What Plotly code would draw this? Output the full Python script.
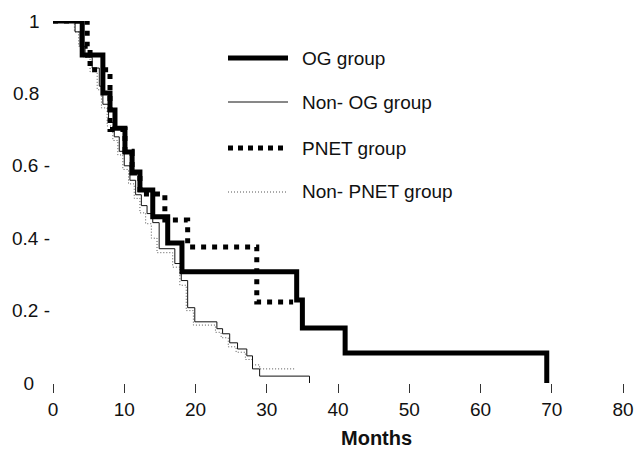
import plotly.graph_objects as go

# ---- data ----
og_t = [0, 4.1, 7.0, 8.0, 8.7, 10.1, 11.1, 12.2, 14.0, 16.1, 18.1, 34.2, 35.0, 41.0, 69.3]
og_s = [1.0, 0.906, 0.801, 0.754, 0.704, 0.638, 0.583, 0.533, 0.459, 0.387, 0.307, 0.229, 0.152, 0.083, 0.0]

nonog_t = [0, 3.1, 3.8, 4.5, 5.5, 6.5, 7.0, 7.8, 8.6, 9.3, 10.0, 10.8, 11.6, 12.4, 13.2,
           14.0, 14.9, 17.1, 18.0, 18.9, 19.9, 23.0, 23.8, 24.8, 25.9, 27.2, 28.0, 29.0, 36.0]
nonog_s = [1.0, 0.97, 0.93, 0.90, 0.87, 0.82, 0.77, 0.72, 0.68, 0.64, 0.60, 0.56, 0.52, 0.49, 0.468,
           0.443, 0.371, 0.33, 0.283, 0.208, 0.169, 0.150, 0.136, 0.111, 0.094, 0.075, 0.039, 0.019, 0.0]

pnet_t = [0, 4.8, 5.2, 8.0, 10.1, 11.1, 12.2, 15.7, 18.9, 28.6, 33.7]
pnet_s = [1.0, 0.93, 0.865, 0.70, 0.64, 0.58, 0.522, 0.45, 0.376, 0.224, 0.224]

nonpnet_t = [0, 3.0, 3.6, 4.3, 5.2, 6.2, 6.8, 7.6, 8.4, 9.1, 9.8, 10.6, 11.4, 12.2, 13.0,
             13.8, 14.6, 16.8, 17.8, 18.7, 19.7, 22.8, 23.6, 24.6, 25.7, 27.0, 28.0, 29.0, 34.0]
nonpnet_s = [1.0, 0.97, 0.93, 0.90, 0.86, 0.81, 0.76, 0.71, 0.67, 0.63, 0.59, 0.55, 0.51, 0.47, 0.44,
             0.40, 0.36, 0.32, 0.27, 0.20, 0.16, 0.14, 0.125, 0.10, 0.085, 0.065, 0.05, 0.039, 0.039]

x_ticks = [0, 10, 20, 30, 40, 50, 60, 70, 80]
y_ticks = [0, 0.2, 0.4, 0.6, 0.8, 1]
y_tick_text = ["0\u00a0\u00a0\u00a0", "0.2 -", "0.4 -", "0.6 -", "0.8\u00a0\u00a0", "1\u00a0\u00a0"]

series_names = ["OG group", "Non- OG group", "PNET group", "Non- PNET group"]

FONT = "Liberation Sans, Arial, sans-serif"

fig = go.Figure()
fig.add_trace(go.Scatter(x=nonpnet_t, y=nonpnet_s, mode="lines", line_shape="hv",
                         line=dict(color="#555555", width=1, dash="1px,2px"),
                         name=series_names[3], cliponaxis=False))
fig.add_trace(go.Scatter(x=nonog_t, y=nonog_s, mode="lines", line_shape="hv",
                         line=dict(color="#111111", width=1),
                         name=series_names[1], cliponaxis=False))
fig.add_trace(go.Scatter(x=pnet_t, y=pnet_s, mode="lines", line_shape="hv",
                         line=dict(color="black", width=5, dash="5px,6px"),
                         name=series_names[2], cliponaxis=False))
fig.add_trace(go.Scatter(x=og_t, y=og_s, mode="lines", line_shape="hv",
                         line=dict(color="black", width=5),
                         name=series_names[0], cliponaxis=False))

W, H = 635, 451
L, R, T = 53, 12, 21
B = H - 383
pw, ph = W - L - R, H - T - B


def px2paper(xp, yp):
    return (xp - L) / pw, (H - B - yp) / ph


# manual legend
leg_rows = [(58, 5, "solid", "black", 288), (102, 1, "solid", "#111111", 288),
            (148, 5, "5px,5px", "black", 284), (192, 1, "1px,2px", "#555555", 286)]
shapes = []
annotations = []
for (yp, w, dash, col, xe), name in zip(leg_rows, series_names):
    x0, y0 = px2paper(228, yp)
    x1, _ = px2paper(xe, yp)
    shapes.append(dict(type="line", xref="paper", yref="paper", x0=x0, x1=x1, y0=y0, y1=y0,
                       line=dict(color=col, width=w, dash=dash)))
    tx, ty = px2paper(300, yp)
    annotations.append(dict(xref="paper", yref="paper", x=tx, y=ty, text=name, showarrow=False,
                            xanchor="left", yanchor="middle",
                            font=dict(family=FONT, size=19, color="#111111")))

mx, my = px2paper(376, 438)
annotations.append(dict(xref="paper", yref="paper", x=mx, y=my, text="<b>Months</b>", showarrow=False,
                        xanchor="center", yanchor="middle",
                        font=dict(family=FONT, size=20, color="#111111")))

fig.update_layout(
    width=W, height=H,
    margin=dict(l=L, r=R, t=T, b=B),
    paper_bgcolor="white", plot_bgcolor="white",
    showlegend=False,
    shapes=shapes, annotations=annotations,
    xaxis=dict(range=[0, 80], tickvals=x_ticks, ticktext=[str(v) for v in x_ticks],
               ticks="outside", ticklen=9, tickcolor="#333333", tickwidth=1,
               showgrid=False, zeroline=False, showline=False, automargin=False,
               tickfont=dict(family=FONT, size=19, color="#111111")),
    yaxis=dict(range=[0, 1], tickvals=y_ticks, ticktext=y_tick_text,
               ticks="", showgrid=False, zeroline=False, showline=False, automargin=False,
               ticklabelstandoff=2,
               tickfont=dict(family=FONT, size=19, color="#111111")),
)

fig.write_html("out.html",
               config={"displayModeBar": False},
               post_script="document.body.style.margin='0px';document.body.style.overflow='hidden';")
